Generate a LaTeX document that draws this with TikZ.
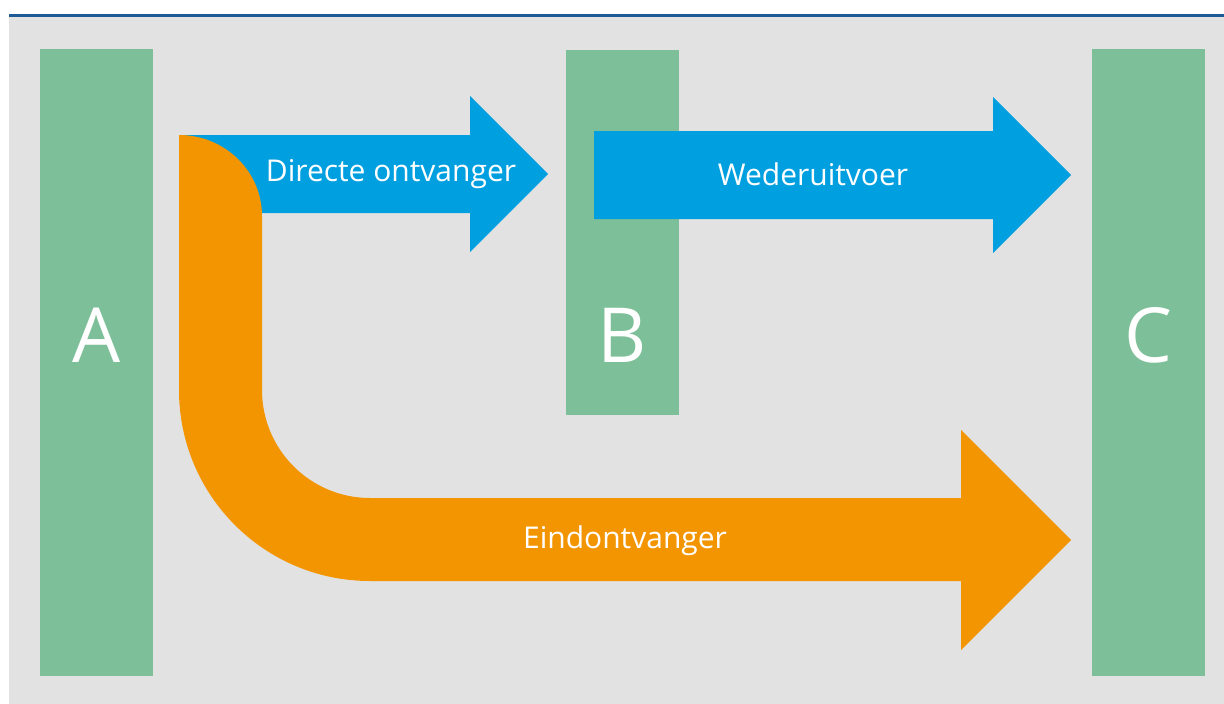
\documentclass[tikz,border=0pt]{standalone}
\usepackage{fontspec}
\setmainfont{Open Sans}
\definecolor{bg}{HTML}{E2E2E2}
\definecolor{topline}{HTML}{1F5A96}
\definecolor{boxgreen}{HTML}{7DBF98}
\definecolor{arrowblue}{HTML}{009FE0}
\definecolor{arroworange}{HTML}{F39500}
\tikzset{
  column/.style={fill=boxgreen, draw=none, minimum width=113pt, inner sep=0pt},
  letter/.style={text=white, font=\fontsize{76}{80}\selectfont, inner sep=0pt},
  label/.style={text=white, font=\fontsize{30}{34}\selectfont, inner sep=0pt}
}
\begin{document}
\begin{tikzpicture}[x=1pt,y=-1pt]
\useasboundingbox (0,0) rectangle (1224,704);
\fill[bg] (9,16) rectangle (1224,704);
\fill[topline] (9,14) rectangle (1224,16.5);
% columns
\node[column, minimum height=627pt, anchor=north west] (A) at (40,49) {};
\node[column, minimum height=365pt, anchor=north west] (B) at (566,50) {};
\node[column, minimum height=627pt, anchor=north west] (C) at (1092,49) {};
\node[letter] (la) at (96.5,335) {A};
\node[letter] (lb) at (622.5,335) {B};
\node[letter] (lc) at (1148.5,335) {C};
% blue arrow 1
\fill[arrowblue] (179,135) -- (470,135) -- (470,96) -- (548,174) -- (470,252) -- (470,213) -- (179,213) -- cycle;
% blue arrow 2
\fill[arrowblue] (594,131) -- (993,131) -- (993,97) -- (1071,175) -- (993,253) -- (993,219) -- (594,219) -- cycle;
% orange arrow
\fill[arroworange] (179,135) arc[start angle=-90, end angle=0, x radius=83, y radius=81] -- (262,390)
  arc[start angle=180, end angle=90, radius=108] -- (961,498) -- (961,430) -- (1071,540) -- (961,650) -- (961,581) -- (370,581)
  arc[start angle=90, end angle=180, radius=191] -- cycle;
\node[label] (d) at (391,174) {Directe ontvanger};
\node[label] (w) at (813,174) {Wederuitvoer};
\node[label] (e) at (625,541) {Eindontvanger};
\end{tikzpicture}
\end{document}
